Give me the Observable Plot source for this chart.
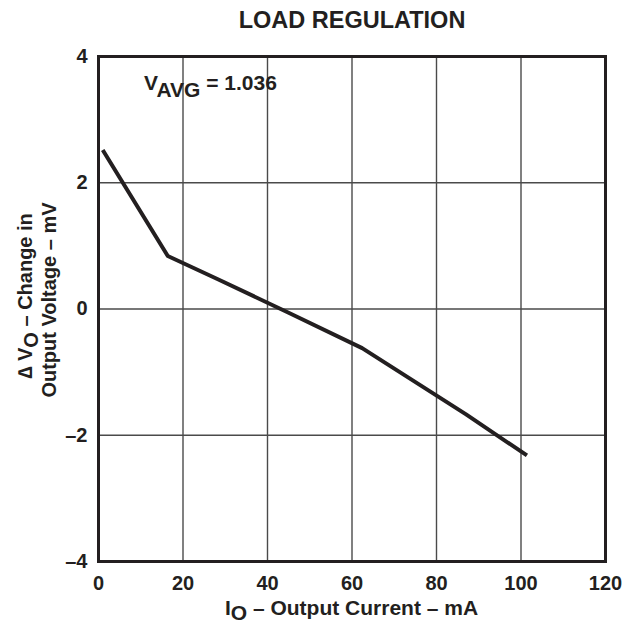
<!DOCTYPE html>
<html>
<head>
<meta charset="utf-8">
<script src="https://cdn.jsdelivr.net/npm/d3@7"></script>
<script src="https://cdn.jsdelivr.net/npm/@observablehq/plot@0.6"></script>
<style>
  html, body { margin: 0; padding: 0; background: #fff; }
  #chart { width: 629px; height: 625px; }
</style>
</head>
<body>
<div id="chart"></div>
<script>
// Data
const currentMA = [1, 16.4, 28, 45, 62.4, 87, 101.4];
const deltaVmV  = [2.52, 0.84, 0.48, -0.06, -0.62, -1.67, -2.32];
const xTicks = [0, 20, 40, 60, 80, 100, 120];
const yTicks = [-4, -2, 0, 2, 4];
const titleText = "LOAD REGULATION";

const data = currentMA.map((x, i) => ({x, y: deltaVmV[i]}));
const FONT = "'Liberation Sans', Arial, Helvetica, sans-serif";
const INK = "#231f20";

// custom mark: rich text (with subscripts) positioned relative to the frame
function richText(segments, {px, py, rotate = 0, anchor = "middle", size = 20, shift = 7}) {
  return (index, scales, values, dim) => {
    const g = d3.create("svg:g");
    const t = g.append("text")
      .attr("transform", `translate(${px(dim)},${py(dim)}) rotate(${rotate})`)
      .attr("text-anchor", anchor)
      .attr("font-family", FONT)
      .attr("font-weight", "bold")
      .attr("font-size", size)
      .attr("fill", INK);
    for (const s of segments) {
      const ts = t.append("tspan").text(s.t);
      if (s.sub) ts.attr("dy", shift);
      if (s.up) ts.attr("dy", -shift);
    }
    return g.node();
  };
}

const chart = Plot.plot({
  width: 629,
  height: 625,
  marginLeft: 98,
  marginRight: 24,
  marginTop: 56,
  marginBottom: 64,
  style: {fontFamily: FONT, fontWeight: "bold", fontSize: "20px", color: INK, background: "#fff", overflow: "visible"},
  x: {domain: [0, 120], label: null},
  y: {domain: [-4, 4], label: null},
  marks: [
    Plot.gridX(xTicks, {stroke: "#4a4a4a", strokeOpacity: 1, strokeWidth: 1.4}),
    Plot.gridY(yTicks, {stroke: "#4a4a4a", strokeOpacity: 1, strokeWidth: 1.4}),
    Plot.frame({stroke: INK, strokeWidth: 3}),
    Plot.line(data, {x: "x", y: "y", stroke: INK, strokeWidth: 4, strokeLinejoin: "round", strokeLinecap: "butt"}),
    Plot.axisX(xTicks, {tickSize: 0, tickPadding: 14, fontSize: 20, fontWeight: "bold", fill: INK, label: null}),
    Plot.axisY(yTicks, {tickSize: 0, tickPadding: 11, fontSize: 20, fontWeight: "bold", fill: INK, label: null,
      tickFormat: d => d < 0 ? "\u2013" + Math.abs(d) : String(d)}),
    Plot.text([titleText], {frameAnchor: "top", lineAnchor: "middle", dy: -36, fontSize: 23.5, fontWeight: "bold", fill: INK, text: d => d}),
    richText([{t: "V"}, {t: "AVG", sub: true}, {t: " = 1.036", up: true}],
      {px: d => d.marginLeft + 46, py: d => d.marginTop + 34, anchor: "start", size: 21, shift: 7}),
    richText([{t: "I"}, {t: "O", sub: true}, {t: " \u2013 Output Current \u2013 mA", up: true}],
      {px: d => (d.marginLeft + d.width - d.marginRight) / 2, py: d => d.height - 10, anchor: "middle", size: 21, shift: 5}),
    richText([{t: "\u2206 V"}, {t: "O", sub: true}, {t: " \u2013 Change in", up: true}],
      {px: d => 32, py: d => 296, rotate: -90, anchor: "middle", size: 20, shift: 6}),
    richText([{t: "Output Voltage \u2013 mV"}],
      {px: d => 56, py: d => 300, rotate: -90, anchor: "middle", size: 20})
  ]
});

document.getElementById("chart").appendChild(chart);
</script>
</body>
</html>
